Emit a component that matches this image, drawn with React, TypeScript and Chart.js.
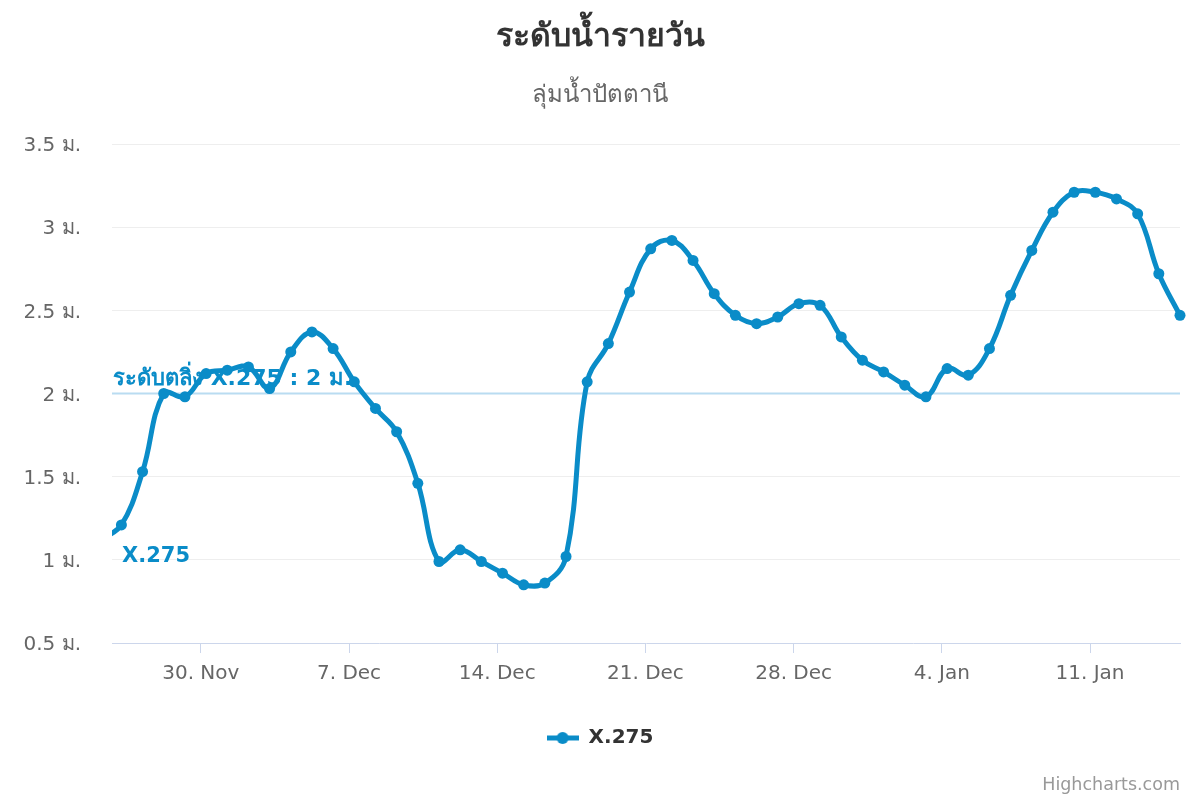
import React, { useEffect, useRef } from "react";
import { Chart, registerables } from "chart.js";

Chart.register(...registerables);

const FONT = '"DejaVu Sans", "Noto Sans", sans-serif';
const TITLE = "ระดับน้ำรายวัน";
const SUBTITLE = "ลุ่มน้ำปัตตานี";
const SERIES_NAME = "X.275";
const UNIT = "ม.";
const PLOT_LINE_VALUE = 2;
const PLOT_LINE_LABEL = "ระดับตลิ่ง X.275 : 2 ม.";
const CREDITS = "Highcharts.com";

const SERIES_COLOR = "#0a8cc8";
const PLOT_LINE_COLOR = "#b9dcf1";

// daily readings (time of reading, UTC)
const READING_HOUR_UTC = 6;
const dates = [
  "2020-11-25", "2020-11-26", "2020-11-27", "2020-11-28", "2020-11-29", "2020-11-30",
  "2020-12-01", "2020-12-02", "2020-12-03", "2020-12-04", "2020-12-05", "2020-12-06",
  "2020-12-07", "2020-12-08", "2020-12-09", "2020-12-10", "2020-12-11", "2020-12-12",
  "2020-12-13", "2020-12-14", "2020-12-15", "2020-12-16", "2020-12-17", "2020-12-18",
  "2020-12-19", "2020-12-20", "2020-12-21", "2020-12-22", "2020-12-23", "2020-12-24",
  "2020-12-25", "2020-12-26", "2020-12-27", "2020-12-28", "2020-12-29", "2020-12-30",
  "2020-12-31", "2021-01-01", "2021-01-02", "2021-01-03", "2021-01-04", "2021-01-05",
  "2021-01-06", "2021-01-07", "2021-01-08", "2021-01-09", "2021-01-10", "2021-01-11",
  "2021-01-12", "2021-01-13", "2021-01-14", "2021-01-15",
];
const levels = [
  1.12, 1.21, 1.53, 2.0, 1.98, 2.12,
  2.14, 2.16, 2.03, 2.25, 2.37, 2.27,
  2.07, 1.91, 1.77, 1.46, 0.99, 1.06,
  0.99, 0.92, 0.85, 0.86, 1.02, 2.07,
  2.3, 2.61, 2.87, 2.92, 2.8, 2.6,
  2.47, 2.42, 2.46, 2.54, 2.53, 2.34,
  2.2, 2.13, 2.05, 1.98, 2.15, 2.11,
  2.27, 2.59, 2.86, 3.09, 3.21, 3.21,
  3.17, 3.08, 2.72, 2.47,
];

const X_MIN = "2020-11-25T19:20:00Z";
const TICK_START = "2020-11-30";
const TICK_INTERVAL_DAYS = 7;
const MONTHS = ["Jan", "Feb", "Mar", "Apr", "May", "Jun", "Jul", "Aug", "Sep", "Oct", "Nov", "Dec"];

const Y_MIN = 0.5;
const Y_MAX = 3.5;
const Y_STEP = 0.5;

const DAY_MS = 86400000;

export default function App() {
  const canvasRef = useRef<HTMLCanvasElement | null>(null);

  useEffect(() => {
    const canvas = canvasRef.current;
    if (!canvas) return;

    const points = dates.map((d, i) => ({
      x: Date.parse(d + "T00:00:00Z") + READING_HOUR_UTC * 3600000,
      y: levels[i],
    }));
    const xMin = Date.parse(X_MIN);
    const xMax = points[points.length - 1].x;
    const tickStart = Date.parse(TICK_START + "T00:00:00Z");

    // legend symbol: line with circle marker
    const sym = document.createElement("canvas");
    sym.width = 32;
    sym.height = 14;
    const sctx = sym.getContext("2d")!;
    sctx.strokeStyle = SERIES_COLOR;
    sctx.lineWidth = 5;
    sctx.beginPath();
    sctx.moveTo(0, 7);
    sctx.lineTo(32, 7);
    sctx.stroke();
    sctx.fillStyle = SERIES_COLOR;
    sctx.beginPath();
    sctx.arc(16, 7, 6, 0, Math.PI * 2);
    sctx.fill();

    const plotLinePlugin = {
      id: "plotLine",
      beforeDatasetsDraw(chart: any) {
        const { ctx, chartArea, scales } = chart;
        const y = scales.y.getPixelForValue(PLOT_LINE_VALUE);
        ctx.save();
        ctx.strokeStyle = PLOT_LINE_COLOR;
        ctx.lineWidth = 2;
        ctx.beginPath();
        ctx.moveTo(chartArea.left, y);
        ctx.lineTo(chartArea.right, y);
        ctx.stroke();
        ctx.font = `bold 22px ${FONT}`;
        ctx.fillStyle = SERIES_COLOR;
        ctx.textAlign = "left";
        ctx.textBaseline = "alphabetic";
        ctx.fillText(PLOT_LINE_LABEL, chartArea.left + 1, y - 9);
        ctx.restore();
      },
      afterDatasetsDraw(chart: any) {
        const { ctx, chartArea } = chart;
        ctx.save();
        ctx.font = `bold 21px ${FONT}`;
        ctx.fillStyle = SERIES_COLOR;
        ctx.textAlign = "left";
        ctx.textBaseline = "middle";
        ctx.fillText(SERIES_NAME, chartArea.left + 10, 557);
        ctx.restore();
      },
      afterDraw(chart: any) {
        const { ctx } = chart;
        ctx.save();
        ctx.font = `17.5px ${FONT}`;
        ctx.fillStyle = "#999999";
        ctx.textAlign = "right";
        ctx.textBaseline = "alphabetic";
        ctx.fillText(CREDITS, 1180, 790);
        ctx.restore();
      },
    };

    const chart = new Chart(canvas, {
      type: "line",
      data: {
        datasets: [
          {
            label: SERIES_NAME,
            data: points,
            borderColor: SERIES_COLOR,
            backgroundColor: SERIES_COLOR,
            borderWidth: 5,
            pointRadius: 5.5,
            pointBorderWidth: 0,
            pointBackgroundColor: SERIES_COLOR,
            tension: 0.4,
            fill: false,
            clip: { left: 0, top: 20, right: 20, bottom: 20 } as any,
          },
        ],
      },
      options: {
        responsive: false,
        animation: false,
        devicePixelRatio: 1,
        layout: { padding: { top: 0, left: 0, right: 0, bottom: 42 } },
        elements: { line: { capBezierPoints: false } },
        plugins: {
          title: {
            display: true,
            text: TITLE,
            color: "#333333",
            font: { family: FONT, size: 32, weight: "bold", lineHeight: 1.2 },
            padding: { top: 18, bottom: 0 },
          },
          subtitle: {
            display: true,
            text: SUBTITLE,
            color: "#666666",
            font: { family: FONT, size: 24, weight: "normal", lineHeight: 1.2 },
            padding: { top: 25.2, bottom: 33.6 },
          },
          legend: {
            display: true,
            position: "bottom",
            labels: {
              usePointStyle: true,
              pointStyle: sym as any,
              pointStyleWidth: 32,
              padding: 10,
              color: "#333333",
              font: { family: FONT, size: 20, weight: "bold" },
            },
          },
          tooltip: { enabled: false },
        },
        scales: {
          x: {
            type: "linear",
            bounds: "data",
            min: xMin,
            max: xMax,
            afterBuildTicks: (scale: any) => {
              const ticks = [];
              for (let t = tickStart; t <= xMax; t += TICK_INTERVAL_DAYS * DAY_MS) {
                if (t >= xMin) ticks.push({ value: t });
              }
              scale.ticks = ticks;
            },
            afterFit: (scale: any) => {
              scale.height = 75;
            },
            ticks: {
              autoSkip: false,
              maxRotation: 0,
              padding: 9,
              color: "#666666",
              font: { family: FONT, size: 20 },
              callback: (v: any) => {
                const d = new Date(Number(v));
                return `${d.getUTCDate()}. ${MONTHS[d.getUTCMonth()]}`;
              },
            },
            grid: {
              display: true,
              drawOnChartArea: false,
              drawTicks: true,
              tickLength: 10,
              color: "#ccd6eb",
              lineWidth: 1,
            },
            border: { display: true, color: "#ccd6eb", width: 1 },
          },
          y: {
            type: "linear",
            min: Y_MIN,
            max: Y_MAX,
            afterFit: (scale: any) => {
              scale.width = 112;
            },
            ticks: {
              stepSize: Y_STEP,
              padding: 31,
              labelOffset: 2,
              color: "#666666",
              font: { family: FONT, size: 20 },
              callback: (v: any) => `${v} ${UNIT}`,
            },
            grid: {
              drawTicks: false,
              color: (ctx: any) =>
                ctx.tick && ctx.tick.value === Y_MIN ? "rgba(0,0,0,0)" : "#eeeeee",
              lineWidth: 1,
            },
            border: { display: false },
          },
          yRight: {
            type: "linear",
            position: "right",
            display: true,
            grid: { display: false },
            ticks: { display: false },
            border: { display: false },
            afterFit: (scale: any) => {
              scale.width = 20;
            },
          },
        },
      } as any,
      plugins: [plotLinePlugin],
    });

    return () => {
      chart.destroy();
    };
  }, []);

  return (
    <div style={{ position: "absolute", left: 0, top: 0, width: 1200, height: 800, background: "#ffffff" }}>
      <canvas ref={canvasRef} width={1200} height={800} />
    </div>
  );
}
